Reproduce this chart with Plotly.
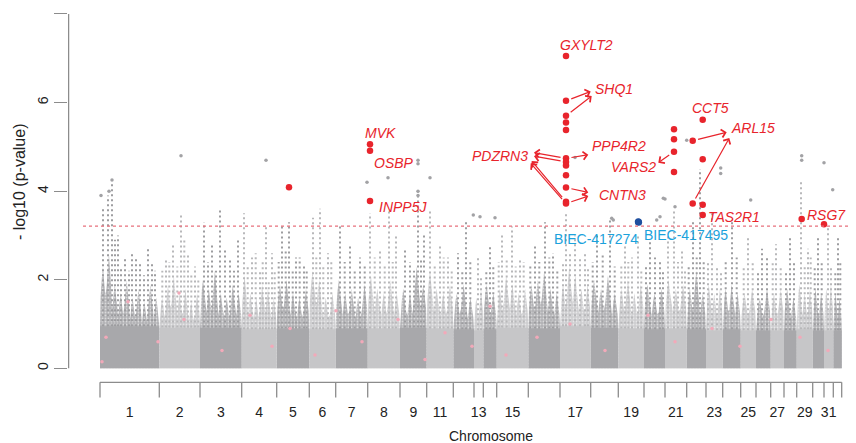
import plotly.graph_objects as go

# ---------------- data ----------------
# chromosome lengths (relative genome units)
chrom_len = [59.3, 40.7, 41.7, 35.0, 32.6, 26.4, 32.0, 32.3, 26.7, 26.6, 20.7, 9.3, 13.4,
             31.6, 31.7, 30.7, 27.6, 25.7, 21.0, 21.7, 19.3, 16.7, 18.0, 15.3, 14.7, 13.3,
             12.7, 16.0, 11.3, 9.3, 8.4]
# labels as printed under the axis and the segment (1-based) under which each is printed
tick_labels = ["1", "2", "3", "4", "5", "6", "7", "8", "9", "11", "13", "15", "17", "19",
               "21", "23", "25", "27", "29", "31"]
tick_segment = [1, 2, 3, 4, 5, 6, 7, 8, 9, 10, 12, 14, 16, 18, 20, 22, 24, 26, 28, 30]

# dense solid base of the point cloud per chromosome (-log10 p)
block_h = [0.95, 0.92, 0.92, 0.88, 0.90, 0.88, 0.90, 0.90, 0.92, 0.90, 0.88, 0.86, 0.88,
           0.92, 0.90, 0.95, 0.92, 0.90, 0.88, 0.90, 0.88, 0.86, 0.88, 0.86, 0.86, 0.86,
           0.86, 0.88, 0.86, 0.86, 0.86]
# upper edge of the semi-dense cloud, sampled evenly along each chromosome
mid_env = [
    [2.3, 2.6, 1.9, 1.7, 2.0, 1.6, 1.8, 1.5, 1.9, 1.6],
    [1.6, 1.9, 2.1, 1.7, 1.8, 1.5, 1.7],
    [2.0, 1.8, 2.2, 1.7, 1.6, 1.9, 1.7],
    [2.1, 1.7, 1.6, 1.9, 1.8, 1.6],
    [1.9, 2.0, 1.7, 1.6, 1.8],
    [2.2, 2.0, 1.6, 1.7],
    [2.0, 1.7, 1.8, 1.6, 1.9],
    [2.1, 1.8, 1.7, 2.0, 1.7],
    [1.8, 1.7, 2.3, 1.9],
    [2.2, 1.8, 1.7, 1.9],
    [1.7, 1.9, 1.6],
    [1.6, 1.8],
    [1.9, 1.7],
    [1.8, 2.1, 1.9, 1.7, 1.8],
    [1.9, 2.0, 2.2, 1.8, 1.7],
    [1.9, 2.3, 2.1, 1.8, 1.9],
    [2.0, 1.8, 2.1, 1.7],
    [1.8, 2.0, 1.7, 1.9],
    [1.9, 1.7, 1.8],
    [2.0, 1.8, 1.9],
    [1.8, 2.2, 1.7],
    [1.9, 1.7, 1.8],
    [1.8, 1.9, 1.7],
    [1.7, 1.8],
    [1.6, 1.8],
    [1.7, 1.8],
    [1.8, 1.6],
    [1.9, 1.7, 1.8],
    [1.8, 1.7],
    [1.8, 1.9],
    [1.7, 1.6],
]
# columns of sub-threshold SNPs: (chromosome, position within chromosome, top -log10 p)
spike_chr = [1, 1, 1, 1, 1, 1, 1, 1, 1, 2, 2, 2, 2, 2, 3, 3, 3, 3, 3, 4, 4, 4, 4, 4,
             5, 5, 5, 5, 6, 6, 6, 7, 7, 7, 8, 8, 8, 8, 9, 9, 9, 10, 10, 10, 11, 11, 12, 13,
             14, 14, 14, 15, 15, 15, 16, 16, 16, 17, 17, 18, 18, 18, 19, 19, 20, 20, 20,
             21, 21, 22, 23, 24, 25, 26, 27, 28, 28, 29, 30, 31,
             1, 1, 1, 1, 1, 1, 2, 2, 2, 2, 2, 2, 3, 3, 3, 3, 4, 4, 4, 4, 4, 5, 5, 5, 5, 5,
             6, 6, 6, 7, 7, 7, 8, 8, 8, 9, 9, 9, 10, 10, 10, 11, 11, 12, 13, 13,
             14, 14, 14, 14, 15, 15, 15, 15, 16, 16, 16, 16, 17, 17, 17, 18, 18, 18,
             19, 19, 19, 20, 20, 21, 21, 21, 22, 22, 22, 23, 23, 24, 24, 25, 25, 26, 26,
             27, 27, 28, 28, 29, 29, 30, 31, 31]
spike_pos = [3, 8, 12, 18, 25, 32, 40, 48, 55, 6.7, 13.7, 21.7, 28.7, 35.7, 4, 12, 20, 30, 38,
             2.3, 10.3, 18.3, 24.3, 30.3, 5.3, 12.3, 19.3, 27.3, 3.7, 10.7, 18.7, 4.3, 14.3,
             24.3, 2.3, 12.3, 21.3, 28.3, 5, 18, 24, 3.3, 13.3, 21.3, 4.7, 12.7, 4, 6.7,
             5.3, 15.3, 23.3, 6.7, 16.7, 24.7, 6, 15, 25, 6.3, 19.3, 6.7, 13.7, 19.7, 6, 16,
             3, 9, 17, 6.3, 13.3, 6, 9.3, 7.3, 6, 5.3, 6, 4.3, 11.3, 5.3, 4, 4.7,
             15, 21, 29, 36, 44, 52, 3, 10, 18, 25, 32, 39, 8, 16, 25, 34, 6, 14, 21, 27, 33,
             2, 9, 16, 23, 30, 7, 14, 22, 9, 19, 29, 7, 17, 25, 10, 14, 21, 8, 17, 25, 9, 17,
             7, 3, 10, 2, 10, 19, 27, 2, 11, 21, 29, 3, 10, 20, 28, 2, 12, 24, 3, 10, 23,
             2, 11, 19, 13, 20, 2, 10, 17, 2, 11, 15, 3, 14, 3, 12, 2, 11, 2, 10,
             2, 10, 8, 14, 2, 9, 7, 2, 7]
spike_h = [3.6, 3.9, 4.2, 3.0, 2.5, 2.6, 2.4, 2.7, 2.2, 2.5, 2.8, 3.5, 2.6, 2.3, 3.3, 2.8,
           3.6, 2.5, 2.9, 3.5, 2.5, 2.2, 3.2, 2.6, 3.2, 3.3, 2.5, 2.3, 3.4, 3.6, 2.6, 3.2,
           2.8, 2.5, 3.5, 2.7, 3.6, 3.0, 2.7, 4.0, 3.0, 3.6, 2.8, 2.5, 2.6, 3.3, 2.5, 2.8,
           3.0, 3.2, 2.5, 2.8, 3.3, 2.6, 3.5, 3.0, 2.6, 3.0, 3.4, 2.8, 2.5, 3.0, 2.9, 2.4,
           3.0, 3.6, 2.7, 3.3, 4.5, 3.5, 3.3, 3.0, 2.7, 2.8, 3.0, 4.2, 2.7, 3.0, 3.2, 3.0,
           2.9, 2.3, 2.2, 2.5, 2.1, 2.4, 2.2, 2.4, 2.3, 2.9, 2.1, 2.0, 2.4, 2.2, 2.7, 2.2,
           2.3, 2.6, 2.4, 2.0, 2.2, 2.4, 2.7, 2.2, 2.5, 2.2, 2.5, 2.3, 2.4, 2.4, 2.2, 2.3,
           2.5, 2.3, 2.4, 2.4, 2.2, 2.5, 2.3, 2.5, 2.2, 2.2, 2.4, 2.1, 2.2, 2.3,
           2.4, 2.5, 2.3, 2.4, 2.3, 2.4, 2.5, 2.2, 2.4, 2.6, 2.5, 2.3, 2.4, 2.6, 2.3,
           2.3, 2.4, 2.2, 2.3, 2.5, 2.2, 2.4, 2.2, 2.3, 2.5, 2.4, 2.4, 2.3, 2.2, 2.4, 2.5,
           2.3, 2.4, 2.2, 2.5, 2.4, 2.3, 2.2, 2.4, 2.3, 2.5, 2.3, 2.4, 2.3, 2.2, 2.4]
# isolated sub-threshold SNPs (cumulative position, -log10 p)
iso_pos = [12, 9, 1, 81, 166, 318, 318, 330, 288, 267, 318, 318, 701.7, 701.7, 724,
           732.7, 650.7, 620.7, 620.7, 586.7, 563.3, 560, 575, 475, 373.3, 380, 395,
           513.3, 565, 511.7, 556.7]
iso_val = [4.25, 4.0, 3.9, 4.8, 4.7, 4.7, 4.62, 4.3, 4.3, 4.2, 4.0, 3.9, 4.8, 4.7, 4.64,
           4.03, 3.8, 4.52, 4.40, 5.15, 3.84, 3.42, 3.65, 4.76, 3.46, 3.42, 3.4,
           3.35, 3.82, 3.39, 3.35]
# pink-highlighted SNPs inside the cloud
pink_pos = [2, 6, 28, 58, 79, 84, 122, 150, 172, 190, 215, 236, 262, 298, 325, 345, 372,
            390, 406, 437, 470, 505, 548, 575, 612, 640, 671, 700, 728]
pink_val = [0.15, 0.7, 1.5, 0.6, 1.7, 1.1, 0.4, 1.2, 0.5, 0.9, 0.3, 1.3, 0.6, 1.1, 0.2,
            0.8, 0.5, 1.4, 0.3, 0.7, 1.0, 0.4, 1.2, 0.6, 0.9, 0.5, 1.1, 0.7, 0.4]

# genome-wide significant SNPs (cumulative position, -log10 p)
sig_pos = [189, 270, 270, 270, 466, 466, 466, 466, 466, 466, 466, 466, 466, 466, 466, 466,
           574, 574, 574, 574, 592.7, 592.7, 602.7, 602.7, 602.7, 602.7, 701.7, 724]
sig_val = [4.09, 5.06, 4.91, 3.78, 7.05, 6.04, 5.70, 5.55, 5.38, 4.74, 4.66, 4.58, 4.36,
           4.08, 3.76, 3.72, 5.40, 5.17, 4.89, 4.43, 5.14, 3.72, 5.61, 4.72, 3.69, 3.46,
           3.37, 3.25]
# highlighted markers
blue_pos = [538.3, 538.6]
blue_val = [3.31, 3.30]

threshold = 3.21

# gene labels (centre position, height)
gene_text = ["GXYLT2", "SHQ1", "PPP4R2", "PDZRN3", "CNTN3", "VARS2", "CCT5", "ARL15",
             "TAS2R1", "RSG7", "MVK", "OSBP", "INPP5J"]
gene_x = [486.7, 514, 519.2, 400, 522.5, 533.3, 610, 652.5, 633.8, 726, 280, 294.2, 302.5]
gene_y = [7.30, 6.30, 5.02, 4.79, 3.91, 4.54, 5.87, 5.42, 3.41, 3.46, 5.32, 4.63, 3.64]
marker_text = ["BIEC-417274", "BIEC-417495"]
marker_x = [496.3, 585.8]
marker_y = [2.91, 3.01]

# arrows: from significant SNP (index into sig_*) to a point next to the gene label
arrow_from = [5, 6, 9, 10, 14, 15, 9, 13, 15, 18, 20, 21]
arrow_to_x = [490.7, 491.7, 434, 434, 431.7, 430.7, 488.3, 488.3, 488.3, 558.3, 626.7, 629.3]
arrow_to_y = [6.25, 6.15, 4.87, 4.79, 4.68, 4.63, 4.82, 3.97, 3.89, 4.64, 5.33, 5.20]

# ---------------- layout helpers ----------------
starts = []
acc = 0.0
for L in chrom_len:
    starts.append(acc)
    acc += L
ends = [s + L for s, L in zip(starts, chrom_len)]
centers = [s + L / 2 for s, L in zip(starts, chrom_len)]

DARK = "#a8a8ab"
LIGHT = "#c6c6c8"
DARK_MID = "#b2b2b5"
LIGHT_MID = "#cdcdcf"
DARK_PT = "#9d9da0"
LIGHT_PT = "#b8b8ba"

fig = go.Figure()

# semi-dense cloud + solid block
for parity, col, midcol in ((0, DARK, DARK_MID), (1, LIGHT, LIGHT_MID)):
    xs, ys, bx, by = [], [], [], []
    for i in range(len(chrom_len)):
        if i % 2 != parity:
            continue
        env = mid_env[i]
        n = len(env)
        step = chrom_len[i] / n
        px = [starts[i]]
        py = [block_h[i]]
        for k, v in enumerate(env):
            px += [starts[i] + k * step + step * 0.1, starts[i] + (k + 0.3) * step,
                   starts[i] + (k + 0.5) * step, starts[i] + (k + 0.7) * step,
                   starts[i] + (k + 1) * step - step * 0.1]
            py += [v * 0.7, v * 0.88, v, v * 0.85, v * 0.72]
        px += [ends[i], ends[i], starts[i]]
        py += [block_h[i], 0, 0]
        xs += px + [None]
        ys += py + [None]
        bx += [starts[i], ends[i], ends[i], starts[i], starts[i], None]
        by += [0, 0, block_h[i], block_h[i], 0, None]
    fig.add_trace(go.Scatter(x=xs, y=ys, mode="lines", fill="toself",
                             line=dict(width=0, color=midcol),
                             fillcolor=midcol,
                             fillpattern=dict(shape=".", fgcolor="white", bgcolor=midcol,
                                              size=3, solidity=0.28),
                             hoverinfo="skip", showlegend=False))
    fig.add_trace(go.Scatter(x=bx, y=by, mode="lines", fill="toself",
                             line=dict(width=0, color=col), fillcolor=col,
                             hoverinfo="skip", showlegend=False))

# columns of SNPs
for parity, col in ((0, DARK_PT), (1, LIGHT_PT)):
    xs, ys = [], []
    for c, p, h in zip(spike_chr, spike_pos, spike_h):
        if (c - 1) % 2 != parity:
            continue
        xs += [starts[c - 1] + p, starts[c - 1] + p, None]
        ys += [block_h[c - 1], h, None]
    fig.add_trace(go.Scatter(x=xs, y=ys, mode="lines",
                             line=dict(width=2.0, color=col, dash="2px,3px"),
                             hoverinfo="skip", showlegend=False))

fig.add_trace(go.Scatter(x=iso_pos, y=iso_val, mode="markers",
                         marker=dict(size=3.5, color="#a2a2a5"),
                         hoverinfo="skip", showlegend=False))
fig.add_trace(go.Scatter(x=pink_pos, y=pink_val, mode="markers",
                         marker=dict(size=3.5, color="#f2a9b9"),
                         hoverinfo="skip", showlegend=False))
fig.add_trace(go.Scatter(x=sig_pos, y=sig_val, mode="markers",
                         marker=dict(size=6.5, color="#e8242c"),
                         hoverinfo="skip", showlegend=False))
fig.add_trace(go.Scatter(x=blue_pos, y=blue_val, mode="markers",
                         marker=dict(size=7, color="#1f4f9f"),
                         hoverinfo="skip", showlegend=False))

shapes = []
# significance threshold
shapes.append(dict(type="line", xref="x", yref="y", x0=-17, x1=752, y0=threshold, y1=threshold,
                   line=dict(color="#e8707c", width=1.3, dash="dot")))
# y axis line (0..8)
AX = "#8c8c8c"
shapes.append(dict(type="line", xref="x", yref="y", x0=-31.4, x1=-31.4, y0=0, y1=8,
                   line=dict(color=AX, width=1.3)))
# chromosome bracket axis
BR_Y = -0.316
BR_B = -0.66
shapes.append(dict(type="line", xref="x", yref="y", x0=starts[0], x1=ends[-1], y0=BR_Y, y1=BR_Y,
                   line=dict(color=AX, width=1.3)))
for b in starts + [ends[-1]]:
    shapes.append(dict(type="line", xref="x", yref="y", x0=b, x1=b, y0=BR_Y, y1=BR_B,
                       line=dict(color=AX, width=1.3)))

annotations = []
RED = "#e8242c"
for t, x, y in zip(gene_text, gene_x, gene_y):
    annotations.append(dict(x=x, y=y, xref="x", yref="y", text="<i>" + t + "</i>",
                            showarrow=False,
                            font=dict(family="Liberation Sans", size=14, color=RED),
                            xanchor="center", yanchor="middle"))
for t, x, y in zip(marker_text, marker_x, marker_y):
    annotations.append(dict(x=x, y=y, xref="x", yref="y", text=t, showarrow=False,
                            font=dict(family="Liberation Sans", size=14, color="#1ba2dc"),
                            xanchor="center", yanchor="middle"))
for i, hx, hy in zip(arrow_from, arrow_to_x, arrow_to_y):
    annotations.append(dict(x=hx, y=hy, xref="x", yref="y", ax=sig_pos[i], ay=sig_val[i],
                            axref="x", ayref="y", text="", showarrow=True, arrowhead=4,
                            arrowsize=1.3, arrowwidth=1.2, arrowcolor=RED, startstandoff=4,
                            standoff=0))
# axis titles (paper coordinates: plot area spans page x 68..852 px, y 8..398 px)
annotations.append(dict(x=(491 - 68) / 784, y=(398 - 435.5) / 390, xref="paper", yref="paper",
                        text="Chromosome", showarrow=False,
                        font=dict(family="Liberation Sans", size=14, color="#222222"),
                        xanchor="center", yanchor="middle"))
annotations.append(dict(x=(19 - 68) / 784, y=(398 - 182) / 390, xref="paper", yref="paper",
                        text="- log10 (p-value)", showarrow=False, textangle=-90,
                        font=dict(family="Liberation Sans", size=16, color="#222222"),
                        xanchor="center", yanchor="middle"))

# the page places the figure 8 px in from the window's top-left corner
fig.update_layout(
    width=848, height=435,
    margin=dict(l=60, r=4, t=0, b=45, autoexpand=False),
    paper_bgcolor="white", plot_bgcolor="white",
    font=dict(family="Liberation Sans", size=14, color="#222222"),
    shapes=shapes, annotations=annotations,
    xaxis=dict(range=[-32, 752], showgrid=False, zeroline=False, showline=False,
               automargin=False,
               tickmode="array", tickvals=[centers[s - 1] for s in tick_segment],
               ticktext=tick_labels, ticks="outside", ticklen=1, tickcolor="rgba(0,0,0,0)",
               tickfont=dict(size=14, color="#222222")),
    yaxis=dict(range=[-0.6706, 8.135], showgrid=False, zeroline=False, showline=False,
               automargin=False,
               tickmode="array", tickvals=[0, 2, 4, 6, 8], ticks="outside", ticklen=13,
               tickcolor=AX, tickwidth=1.3, tickangle=-90,
               tickfont=dict(size=14, color="#222222")),
    showlegend=False,
)

fig.write_html("out.html")
